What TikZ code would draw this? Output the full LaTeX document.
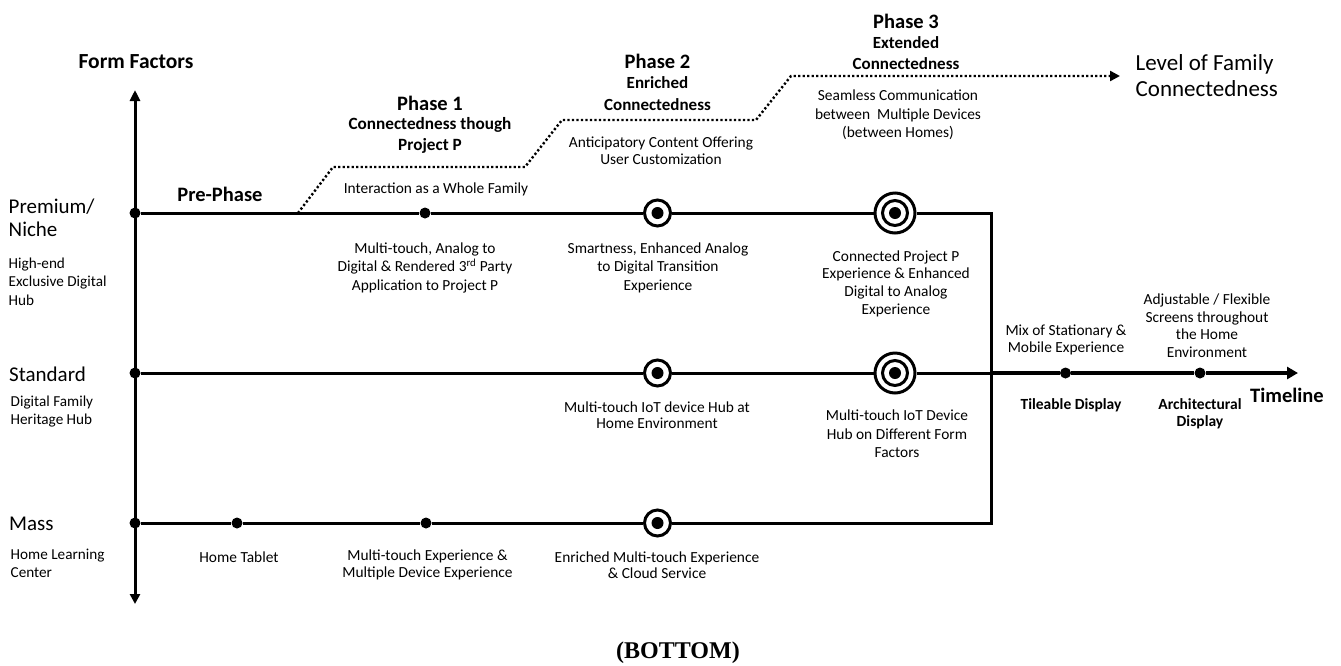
\documentclass[tikz,border=0pt]{standalone}
\usepackage{fontspec}
\setmainfont{Carlito}
\newfontfamily\tnr{Liberation Serif}
\usetikzlibrary{arrows.meta}
\begin{document}
\begin{tikzpicture}[x=1pt,y=-1pt,
  ln/.style={line width=3pt,line join=miter},
  tl/.style={line width=4.5pt,-{Triangle[length=11pt,width=12pt]}},
  axisln/.style={line width=3pt,{Triangle[length=11pt,width=10pt]}-{Triangle[length=10pt,width=10pt]}},
  dotln/.style={line width=2.4pt,dash pattern=on 2.2pt off 2.3pt,-{Triangle[length=10pt,width=10pt]}},
  dotpt/.style={circle,fill=black,inner sep=0pt,minimum size=11pt},
  cdot/.style={circle,fill=black,inner sep=0pt,minimum size=12pt},
  ringnode/.style={circle,draw=black,fill=white,line width=3pt,inner sep=0pt,minimum size=#1},
  txt/.style={font=\fontsize{15.4}{17.5}\selectfont,align=center,inner sep=0pt},
  txtl/.style={font=\fontsize{15.2}{18.5}\selectfont,align=left,anchor=west,inner sep=0pt},
  bigl/.style={font=\fontsize{21}{23}\selectfont,align=left,anchor=west,inner sep=0pt},
  btxt/.style={font=\bfseries\fontsize{15.5}{21}\selectfont,align=center,inner sep=0pt},
  ttl/.style={font=\bfseries\fontsize{20.5}{22}\selectfont,align=center,inner sep=0pt}
]
\useasboundingbox (0,0) rectangle (1341,665);

% ---- points on the lines
\node[dotpt] (pa) at (135,213) {};
\node[dotpt] (sa) at (135,373) {};
\node[dotpt] (ma) at (135,523) {};
\coordinate (atop) at (135,90);
\coordinate (abot) at (135,604);

% premium
\node[dotpt] (p1) at (425,213) {};
\node[ringnode=26pt] (p2) at (657.5,213) {};
\node[cdot] (p2c) at (657.5,213) {};
\node[ringnode=40pt] (p3) at (895,213) {};
\node[ringnode=25pt] (p3r) at (895,213) {};
\node[cdot] (p3c) at (895,213) {};
\coordinate (pc) at (991,213);
\coordinate (mc) at (991,523);

% standard
\node[ringnode=26pt] (s1) at (657.5,373) {};
\node[cdot] (s1c) at (657.5,373) {};
\node[ringnode=40pt] (s2) at (895,373) {};
\node[ringnode=25pt] (s2r) at (895,373) {};
\node[cdot] (s2c) at (895,373) {};
\coordinate (sj) at (991,373);
\node[dotpt] (s3) at (1065.5,373) {};
\node[dotpt] (s4) at (1200,373) {};
\coordinate (stip) at (1298,373);

% mass
\node[dotpt] (m1) at (237,523) {};
\node[dotpt] (m2) at (426,523) {};
\node[ringnode=26pt] (m3) at (657.5,523) {};
\node[cdot] (m3c) at (657.5,523) {};

% ---- connectors
\draw[axisln] (atop) -- (abot);
\draw[ln] (pa) -- (p1) -- (p2) -- (p3) -- (pc) -- (mc) -- (m3) -- (m2) -- (m1) -- (ma);
\draw[ln] (sa) -- (s1) -- (s2) -- (sj);
\draw[tl] (sj) -- (s3) -- (s4) -- (stip);

% dotted connectedness staircase
\coordinate (d0) at (298,213);
\coordinate (d1) at (333,167);
\coordinate (d2) at (525,167);
\coordinate (d3) at (562,120);
\coordinate (d4) at (756,120);
\coordinate (d5) at (791,76);
\coordinate (d6) at (1120,76);
\draw[dotln] (d0) -- (d1) -- (d2) -- (d3) -- (d4) -- (d5) -- (d6);

% ---- texts
\node[ttl,font=\bfseries\fontsize{21.5}{22}\selectfont] (ff) at (136,62) {Form Factors};
\node[ttl] (ph1t) at (430,103) {Phase 1};
\node[btxt,font=\bfseries\fontsize{17.2}{21}\selectfont] (ph1s) at (430,135.5) {Connectedness though\\Project P};
\node[txt] (inter) at (436,189) {Interaction as a Whole Family};
\node[ttl] (pre) at (220,194) {Pre-Phase};
\node[txt,font=\fontsize{15.4}{18.5}\selectfont] (mt1) at (425,267.5) {Multi-touch, Analog to\\Digital \& Rendered 3\textsuperscript{rd} Party\\Application to Project P};

\node[ttl] (ph2t) at (657.5,61) {Phase 2};
\node[btxt,font=\bfseries\fontsize{17}{22}\selectfont] (ph2s) at (657.5,94) {Enriched\\Connectedness};
\node[txt,font=\fontsize{15.4}{17}\selectfont] (antic) at (661,151) {Anticipatory Content Offering\\User Customization};
\node[txt,font=\fontsize{15.4}{18.5}\selectfont] (smart) at (658,267.5) {Smartness, Enhanced Analog\\to Digital Transition\\Experience};

\node[ttl] (ph3t) at (906,21) {Phase 3};
\node[btxt,font=\bfseries\fontsize{17}{20.5}\selectfont] (ph3s) at (906,53) {Extended\\Connectedness};
\node[txt,font=\fontsize{15.4}{18.5}\selectfont] (seam) at (898,115) {Seamless Communication\\between\ \ Multiple Devices\\(between Homes)};
\node[inner sep=0pt,align=left,anchor=west,font=\fontsize{23}{26}\selectfont] (level) at (1135.5,76) {Level of Family\\Connectedness};
\node[txt,font=\fontsize{15.4}{17.7}\selectfont] (conn) at (896,283.5) {Connected Project P\\Experience \& Enhanced\\Digital to Analog\\Experience};

\node[txt,font=\fontsize{15.4}{16.5}\selectfont] (mix) at (1066,340) {Mix of Stationary \&\\Mobile Experience};
\node[txt,font=\fontsize{15.4}{17.7}\selectfont] (adj) at (1207,325.75) {Adjustable / Flexible\\Screens throughout\\the Home\\Environment};
\node[btxt] (tile) at (1071,405) {Tileable Display};
\node[btxt,font=\bfseries\fontsize{15.5}{17}\selectfont] (arch) at (1200,413.5) {Architectural\\Display};
\node[ttl] (timeline) at (1287,395) {Timeline};
\node[txt,font=\fontsize{15.4}{16.5}\selectfont] (iot1) at (657,415) {Multi-touch IoT device Hub at\\Home Environment};
\node[txt,font=\fontsize{15.4}{18.5}\selectfont] (iot2) at (897,434) {Multi-touch IoT Device\\Hub on Different Form\\Factors};

\node[txt] (tablet) at (239,557) {Home Tablet};
\node[txt,font=\fontsize{15.4}{16.5}\selectfont] (mte) at (427.5,565) {Multi-touch Experience \&\\Multiple Device Experience};
\node[txt,font=\fontsize{15.4}{16.5}\selectfont] (emt) at (657,565) {Enriched Multi-touch Experience\\\& Cloud Service};

% left labels
\node[bigl] (prem) at (8.5,217.5) {Premium/\\Niche};
\node[txtl] (preml) at (8.5,281.5) {High-end\\Exclusive Digital\\Hub};
\node[bigl] (std) at (9,374) {Standard};
\node[txtl,font=\fontsize{15.2}{18}\selectfont] (stdl) at (10.5,412) {Digital Family\\Heritage Hub};
\node[bigl] (mass) at (9,524) {Mass};
\node[txtl,font=\fontsize{15.2}{18}\selectfont] (massl) at (10.5,563) {Home Learning\\Center};

\node[inner sep=0pt,font=\tnr\bfseries\fontsize{24}{26}\selectfont] (bottom) at (678,653) {(BOTTOM)};
\end{tikzpicture}
\end{document}
